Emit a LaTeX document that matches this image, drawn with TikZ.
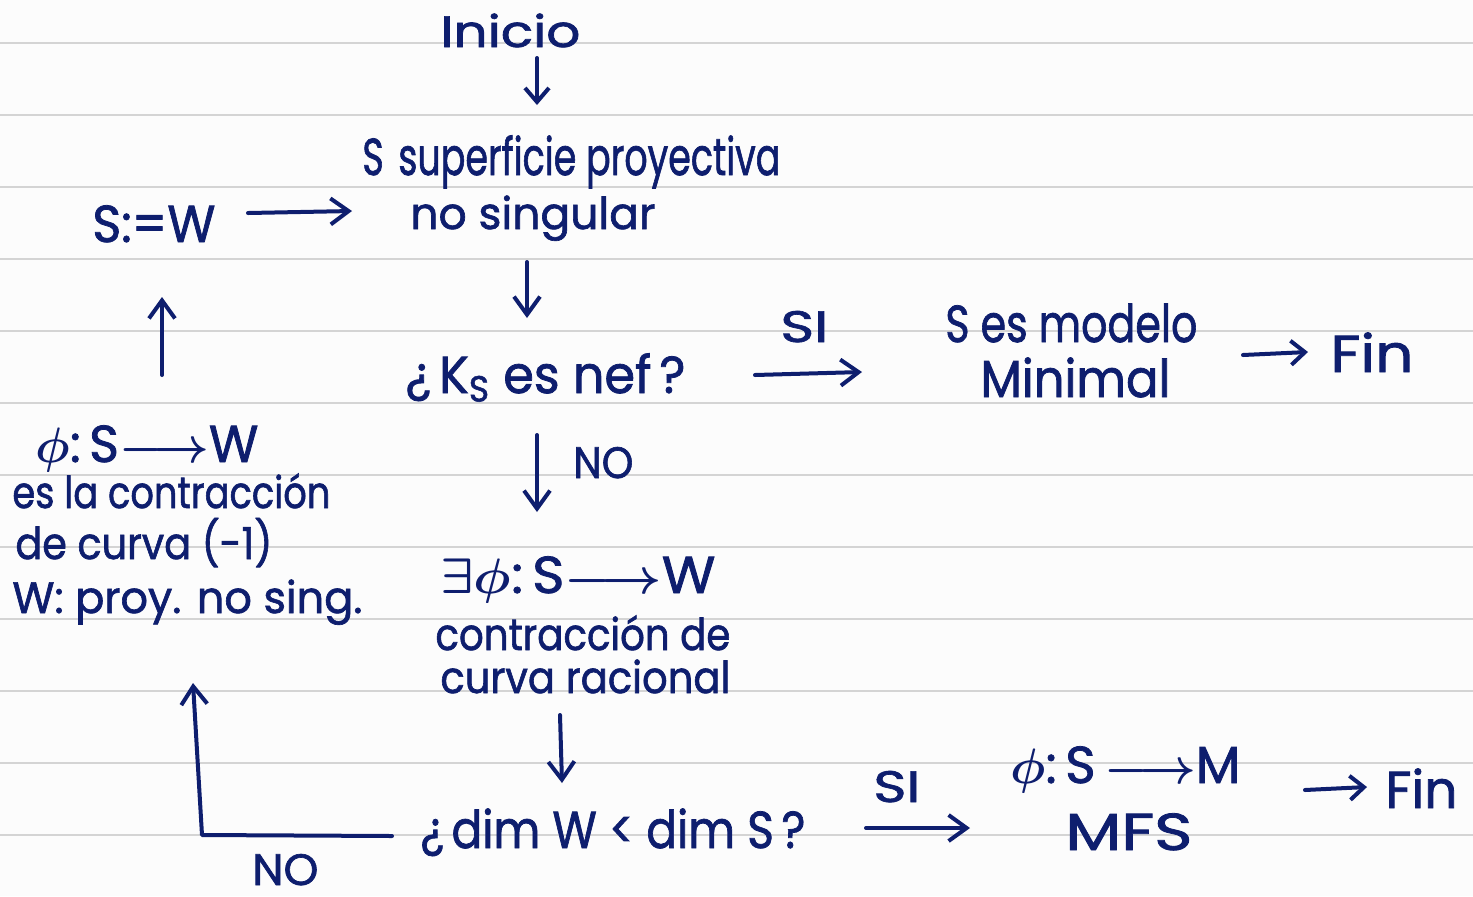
\documentclass[tikz,border=0pt]{standalone}
\usepackage{fontspec}
\setmainfont{Poppins}[FakeBold=1.5]
\usepackage{graphicx}
\usetikzlibrary{arrows.meta}
\definecolor{ink}{RGB}{14,30,110}
\definecolor{rulegray}{RGB}{212,212,212}
\definecolor{paper}{RGB}{252,252,252}
\newcommand{\fitw}[2]{\resizebox{0.5\dimexpr #1pt\relax}{\height}{#2}}
\newcommand{\mto}{$\boldsymbol{\longrightarrow}$}
\usepackage{amsmath,amssymb,bm}
\tikzset{
  txt/.style={inner sep=0pt, anchor=base west, text=ink, font=\fontsize{22}{26}\selectfont},
  big/.style={font=\fontsize{26}{30}\selectfont},
  arr/.style={draw=ink, line width=2pt, line cap=round, line join=round,
    -{Straight Barb[length=7pt,width=12pt,line width=2pt]}},
  arrb/.style={draw=ink, line width=2pt, line cap=round, line join=round,
    -{Straight Barb[length=9pt,width=13pt,line width=2pt]}}
}
\begin{document}
\begin{tikzpicture}[x=0.5pt,y=-0.5pt]
\fill[paper] (0,0) rectangle (1473,896);
\useasboundingbox (0,0) rectangle (1473,896);
\foreach \yy in {43,115,...,835} \draw[rulegray,line width=1pt] (0,\yy) -- (1473,\yy);

% texts
\node[txt] (inicio) at (440,47) {\fitw{140}{Inicio}};
\node[txt,big] (sup1) at (362,175) {\fitw{418}{S\hspace{0.4em}superficie proyectiva}};
\node[txt] (sup2) at (410,229) {\fitw{245}{no singular}};
\node[txt,big] (sw) at (92,242) {\fitw{123}{S:=W}};
\node[txt,big] (nef) at (405,393) {\fitw{280}{¿\,K\textsubscript{S} es nef\,?}};
\node[txt] (si1) at (780,342) {\fitw{48}{SI}};
\node[txt,big] (min1) at (945,342) {\fitw{252}{S es modelo}};
\node[txt,big] (min2) at (980,397) {\fitw{190}{Minimal}};
\node[txt,big] (fin1) at (1330,372) {\fitw{83}{Fin}};
\node[txt,big] (phi1) at (35,462) {\fitw{223}{$\bm{\phi}$:\,S\mto W}};
\node[txt] (c1) at (12,508) {\fitw{318}{es la contracción}};
\node[txt] (c2) at (15,559) {\fitw{257}{de curva (-1)}};
\node[txt] (c3) at (12,613) {\fitw{350}{W: proy. no sing.}};
\node[txt] (no1) at (573,478) {\fitw{60}{NO}};
\node[txt,big] (ex) at (440,593) {\fitw{275}{$\bm{\exists\phi}$:\,S\mto W}};
\node[txt] (r1) at (435,650) {\fitw{295}{contracción de}};
\node[txt] (r2) at (440,693) {\fitw{290}{curva racional}};
\node[txt,big] (dim) at (420,848) {\fitw{385}{¿\,dim W < dim S\,?}};
\node[txt] (no2) at (252,885) {\fitw{66}{NO}};
\node[txt] (si2) at (873,802) {\fitw{47}{SI}};
\node[txt,big] (phi2) at (1010,783) {\fitw{230}{$\bm{\phi}$:\,S\,\mto M}};
\node[txt,big] (mfs) at (1065,850) {\fitw{127}{MFS}};
\node[txt,big] (fin2) at (1385,808) {\fitw{72}{Fin}};

% connector end points
\coordinate (inicio-out) at (537,58);   \coordinate (sup-in) at (537,105);
\coordinate (sw-out) at (248,213);      \coordinate (sup-left) at (352,211);
\coordinate (sup-out) at (527,262);     \coordinate (nef-in) at (527,318);
\coordinate (nef-right) at (755,375);   \coordinate (min-in) at (862,372);
\coordinate (min-out) at (1243,355);    \coordinate (fin1-in) at (1308,352);
\coordinate (c-up) at (162,375);        \coordinate (sw-in) at (162,297);
\coordinate (nef-out) at (537,435);     \coordinate (ex-in) at (537,512);
\coordinate (r-out) at (560,715);       \coordinate (dim-in) at (562,783);
\coordinate (dim-left) at (392,836);    \coordinate (corner) at (202,835);
\coordinate (c3-in) at (193,683);
\coordinate (dim-right) at (866,828);   \coordinate (phi2-in) at (970,828);
\coordinate (phi2-out) at (1305,790);   \coordinate (fin2-in) at (1367,787);

\draw[arr] (inicio-out) -- (sup-in);
\draw[arrb] (sw-out) -- (sup-left);
\draw[arrb] (sup-out) -- (nef-in);
\draw[arrb] (nef-right) -- (min-in);
\draw[arr] (min-out) -- (fin1-in);
\draw[arrb] (c-up) -- (sw-in);
\draw[arrb] (nef-out) -- (ex-in);
\draw[arrb] (r-out) -- (dim-in);
\draw[arrb] (dim-left) -- (corner) -- (c3-in);
\draw[arrb] (dim-right) -- (phi2-in);
\draw[arr] (phi2-out) -- (fin2-in);
\end{tikzpicture}
\end{document}
